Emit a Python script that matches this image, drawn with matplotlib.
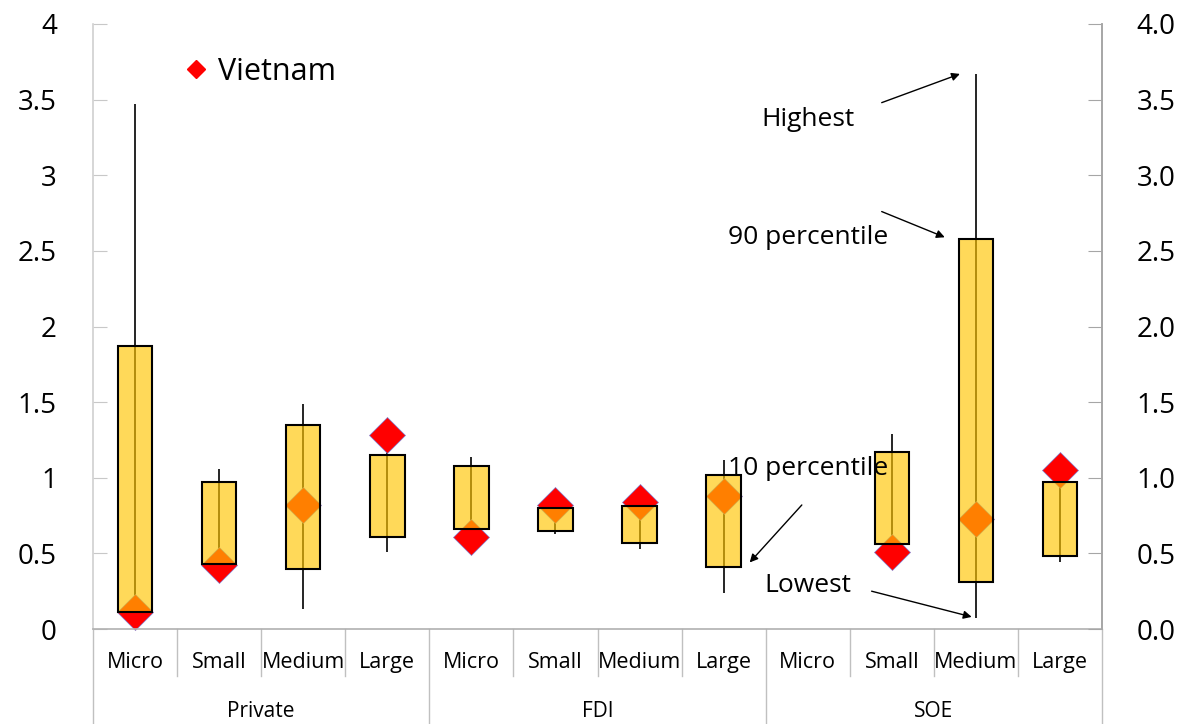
import matplotlib
matplotlib.use('Agg')
import matplotlib.pyplot as plt
from matplotlib.lines import Line2D
import numpy as np

plt.rcParams['font.family'] = ['Open Sans', 'DejaVu Sans']

groups = ['Private', 'FDI', 'SOE']
sizes = ['Micro', 'Small', 'Medium', 'Large']
lowest = [0.11, 0.42, 0.13, 0.51, 0.61, 0.63, 0.53, 0.24, np.nan, 0.50, 0.07, 0.44]
p10 = [0.11, 0.43, 0.40, 0.61, 0.66, 0.65, 0.57, 0.41, np.nan, 0.56, 0.31, 0.48]
p90 = [1.87, 0.97, 1.35, 1.15, 1.08, 0.80, 0.81, 1.02, np.nan, 1.17, 2.58, 0.97]
highest = [3.47, 1.06, 1.49, 1.28, 1.14, 0.81, 0.83, 1.12, np.nan, 1.29, 3.67, 1.04]
vietnam = [0.11, 0.42, 0.82, 1.28, 0.61, 0.82, 0.84, 0.88, np.nan, 0.51, 0.73, 1.05]
yticks = [0, 0.5, 1, 1.5, 2, 2.5, 3, 3.5, 4]
left_labels = ['0', '0.5', '1', '1.5', '2', '2.5', '3', '3.5', '4']
right_labels = ['0.0', '0.5', '1.0', '1.5', '2.0', '2.5', '3.0', '3.5', '4.0']

fig = plt.figure(figsize=(11.83, 7.24), dpi=100)
ax = fig.add_axes([93/1183, 95/724, (1102-93)/1183, (629-24)/724])

n = len(lowest)
x = np.arange(n)
lo = np.array(lowest); hi = np.array(highest)
b = np.array(p10); t = np.array(p90)

ax.vlines(x, lo, hi, color='black', lw=1.2, zorder=1)
ax.plot(x, vietnam, linestyle='none', marker='D', ms=18.5, color='#FF0000',
        mec='#8080d0', mew=0.5, zorder=2, clip_on=False)
ax.bar(x, t - b, bottom=b, width=0.41, facecolor=(1, 0.773, 0, 0.65),
       edgecolor='black', linewidth=1.5, zorder=3)

ax.set_xlim(-0.5, n - 0.5)
ax.set_ylim(0, 4)

ax.spines['top'].set_visible(False)
ax.spines['left'].set_color('#d0d0d0')
ax.spines['right'].set_color('#a6a6a6')
ax.spines['bottom'].set_color('#b0b0b0')
for s in ['left', 'right', 'bottom']:
    ax.spines[s].set_linewidth(1.2)

ax.set_yticks(yticks)
ax.set_yticklabels(left_labels, fontsize=20)
ax.tick_params(axis='y', direction='in', length=10, color='#c8c8c8', pad=26)
ax.set_xticks([])

ax2 = ax.twinx()
ax2.set_ylim(0, 4)
ax2.set_yticks(yticks)
ax2.set_yticklabels(right_labels, fontsize=20)
ax2.tick_params(axis='y', direction='in', length=10, color='#a6a6a6', pad=25)
for s in ['top', 'left', 'bottom']:
    ax2.spines[s].set_visible(False)
ax2.spines['right'].set_color('#a6a6a6')
ax2.spines['right'].set_linewidth(1.2)

# category separators and labels
trans = ax.get_xaxis_transform()
for i in range(n + 1):
    xb = i - 0.5
    if i % 4 == 0:
        ax.plot([xb, xb], [0, -0.16], transform=trans, color='#c0c0c0', lw=1, clip_on=False)
    else:
        ax.plot([xb, xb], [0, -0.077], transform=trans, color='#c0c0c0', lw=1, clip_on=False)
for i in range(n):
    ax.text(i, -0.055, sizes[i % 4], transform=trans, ha='center', va='center', fontsize=15.5)
for g, name in enumerate(groups):
    ax.text(g * 4 + 1.5, -0.137, name, transform=trans, ha='center', va='center', fontsize=15)

# legend
h = Line2D([], [], linestyle='none', marker='D', ms=8.7, color='#FF0000')
fig.legend([h], ['Vietnam'], loc='center left', bbox_to_anchor=(184/1183, 0.9006),
           bbox_transform=fig.transFigure, frameon=False, fontsize=22,
           handletextpad=0.3, handlelength=0.8, borderpad=0, borderaxespad=0)

# annotations
akw = dict(arrowstyle='-|>', color='black', lw=1, mutation_scale=12, shrinkA=0, shrinkB=0)
fs = 19
ax.text(8.0, 3.37, 'Highest', ha='center', va='center', fontsize=fs)
ax.annotate('', xy=(9.81, 3.67), xytext=(8.88, 3.48), arrowprops=akw)
ax.text(8.0, 2.59, '90 percentile', ha='center', va='center', fontsize=fs)
ax.annotate('', xy=(9.63, 2.59), xytext=(8.88, 2.76), arrowprops=akw)
ax.text(8.01, 1.06, '10 percentile', ha='center', va='center', fontsize=fs, zorder=4)
ax.annotate('', xy=(7.31, 0.44), xytext=(7.93, 0.82), arrowprops=akw)
ax.text(8.0, 0.29, 'Lowest', ha='center', va='center', fontsize=fs)
ax.annotate('', xy=(9.95, 0.08), xytext=(8.76, 0.25), arrowprops=akw)

fig.savefig('out.png', dpi=100)
